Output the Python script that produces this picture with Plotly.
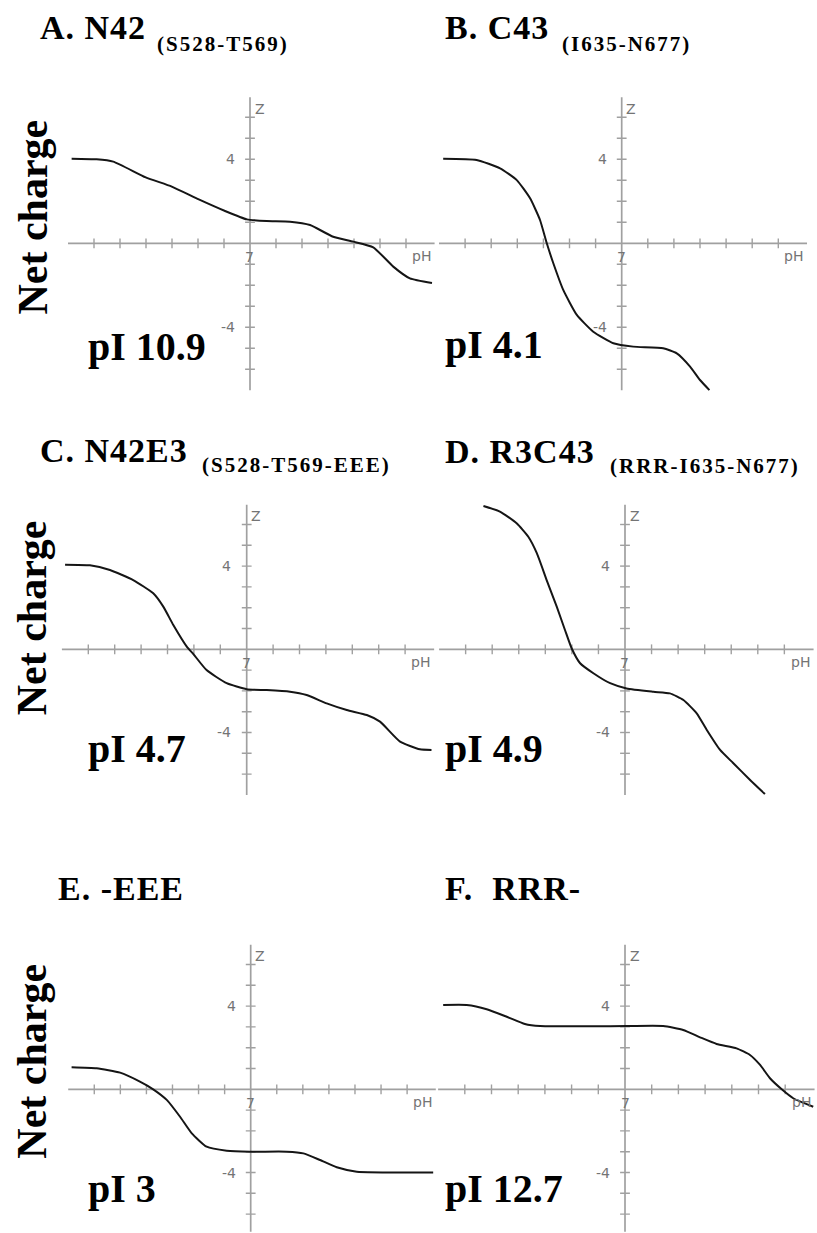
import plotly.graph_objects as go

W, H = 817, 1233

# ---------------- data: (pH, net charge Z) ----------------
ph_A = [0.14, 1.10, 1.74, 2.99, 3.99, 5.03, 6.02, 6.88, 7.64, 8.54, 9.31, 10.20, 10.97, 11.74, 12.51, 13.15, 14.0]
z_A = [4.03, 4.00, 3.89, 3.14, 2.70, 2.09, 1.55, 1.14, 1.06, 1.03, 0.87, 0.31, 0.08, -0.19, -1.11, -1.67, -1.89]

ph_B = [0.16, 1.44, 2.34, 2.98, 3.49, 3.87, 4.13, 4.38, 4.76, 5.28, 5.91, 6.68, 7.44, 8.59, 9.11, 9.62, 10.0, 10.36]
z_B = [4.03, 3.97, 3.57, 3.01, 2.14, 1.11, 0.0, -0.95, -2.22, -3.41, -4.21, -4.76, -4.92, -5.0, -5.24, -5.87, -6.51, -6.99]

ph_C = [0.12, 1.06, 1.82, 2.70, 3.46, 3.84, 4.22, 4.73, 4.98, 5.48, 6.24, 7.0, 7.76, 8.64, 9.27, 10.03, 10.79, 11.55, 12.05, 12.81, 13.56, 14.0]
z_C = [4.07, 4.04, 3.81, 3.33, 2.69, 2.05, 1.17, 0.13, -0.23, -1.0, -1.63, -1.92, -1.96, -2.04, -2.2, -2.6, -2.92, -3.16, -3.48, -4.44, -4.81, -4.84]

ph_D = [1.67, 2.29, 2.92, 3.36, 3.68, 4.05, 4.43, 4.74, 4.99, 5.31, 5.81, 6.44, 7.06, 8.07, 8.69, 9.2, 9.7, 10.08, 10.58, 11.08, 11.71, 12.27]
z_D = [6.89, 6.62, 6.06, 5.41, 4.62, 3.33, 2.05, 0.93, 0.05, -0.67, -1.15, -1.63, -1.88, -2.04, -2.12, -2.44, -3.08, -3.88, -4.84, -5.48, -6.28, -6.96]

ph_E = [0.13, 1.09, 1.99, 2.75, 3.26, 3.78, 4.29, 4.74, 5.31, 6.08, 6.97, 8.38, 9.02, 9.66, 10.3, 11.07, 13.5, 14.0]
z_E = [1.06, 1.01, 0.80, 0.37, 0.0, -0.51, -1.32, -2.12, -2.76, -2.95, -3.0, -3.0, -3.08, -3.4, -3.75, -3.96, -4.0, -4.0]

ph_F = [0.19, 1.07, 1.82, 2.57, 3.25, 3.82, 7.06, 8.43, 9.18, 9.81, 10.43, 11.18, 11.68, 12.06, 12.43, 12.87, 13.3, 14.05]
z_F = [4.05, 4.05, 3.85, 3.49, 3.14, 3.04, 3.04, 3.04, 2.85, 2.5, 2.18, 1.97, 1.65, 1.17, 0.53, 0.0, -0.43, -0.84]

titles = ["A. N42", "B. C43", "C. N42E3", "D. R3C43", "E. -EEE", "F.  RRR-"]
subtitles = ["(S528-T569)", "(I635-N677)", "(S528-T569-EEE)", "(RRR-I635-N677)", "", ""]
pi_labels = ["pI 10.9", "pI 4.1", "pI 4.7", "pI 4.9", "pI 3", "pI 12.7"]

x_ticks = [1, 2, 3, 4, 5, 6, 8, 9, 10, 11, 12, 13]
z_ticks = [-6, -5, -4, -3, -2, -1, 1, 2, 3, 4, 5, 6]
z_labels = [4, -4]

series = [(ph_A, z_A), (ph_B, z_B), (ph_C, z_C), (ph_D, z_D), (ph_E, z_E), (ph_F, z_F)]

# ---------------- layout geometry (pixels) ----------------
# cx: pixel of pH 7, ux: px per pH unit, cy: pixel of Z=0, uy: px per charge unit
geom = [
    dict(cx=250.0, ux=26.0, cy=243.3, uy=21.0, yr=(-7.2, 7.2)),
    dict(cx=621.7, ux=26.1, cy=243.3, uy=21.0, yr=(-7.2, 7.2)),
    dict(cx=246.7, ux=26.4, cy=649.3, uy=20.8, yr=(-7.2, 7.2)),
    dict(cx=625.0, ux=26.56, cy=649.3, uy=20.8, yr=(-7.2, 7.2)),
    dict(cx=250.7, ux=26.07, cy=1089.3, uy=20.8, yr=(-6.85, 7.2)),
    dict(cx=625.0, ux=26.7, cy=1089.3, uy=20.8, yr=(-6.85, 7.2)),
]
XR = (-0.2, 14.15)

title_pos = [  # (main left x, main baseline, sub left x, sub baseline)
    (40, 39, 157, 51), (445, 39, 562, 51),
    (40, 462, 202, 472), (445, 463, 610, 473),
    (58, 900, None, None), (445, 900, None, None),
]
pi_pos = [(88, 360), (445, 358), (88, 762), (445, 762), (88, 1202), (445, 1202)]
netcharge_y = [217.5, 618.3, 1061.7]

AX = "#a0a0a0"
TXT = "#747474"
SERIF = "Liberation Serif, Times New Roman, serif"
SANS = "DejaVu Sans, sans-serif"

fig = go.Figure()
layout = dict(width=W, height=H, margin=dict(l=0, r=0, t=0, b=0),
              paper_bgcolor="white", plot_bgcolor="rgba(0,0,0,0)", showlegend=False)
annotations = []
shapes = []


def px_ann(text, x, baseline, size, xanchor="left", textangle=0, yc=None, **kw):
    if yc is None:
        yc = baseline - 0.3375 * size
    return dict(text=text, xref="paper", yref="paper", x=x / W, y=1 - yc / H,
                xanchor=xanchor, yanchor="middle", showarrow=False, textangle=textangle,
                borderpad=0, borderwidth=0,
                font=dict(family=SERIF, size=size, color="black", weight="bold"), **kw)


for i, (g, (ph, z)) in enumerate(zip(geom, series)):
    n = "" if i == 0 else str(i + 1)
    xa, ya = "x" + n, "y" + n
    x0 = g["cx"] + (XR[0] - 7) * g["ux"]
    x1 = g["cx"] + (XR[1] - 7) * g["ux"]
    yt = g["cy"] - g["yr"][1] * g["uy"]
    yb = g["cy"] - g["yr"][0] * g["uy"]
    layout["xaxis" + n] = dict(domain=[max(0, x0 / W), min(1, x1 / W)], range=list(XR),
                               visible=False, anchor=ya)
    layout["yaxis" + n] = dict(domain=[max(0, 1 - yb / H), min(1, 1 - yt / H)], range=list(g["yr"]),
                               visible=False, anchor=xa)

    # axes crossing at pH 7, Z 0
    shapes.append(dict(type="line", xref=xa, yref=ya, x0=0, x1=14.1, y0=0, y1=0,
                       line=dict(color=AX, width=1.7), layer="below"))
    shapes.append(dict(type="line", xref=xa, yref=ya, x0=7, x1=7, y0=-7, y1=6.95,
                       line=dict(color=AX, width=1.7), layer="below"))
    # cross ticks
    fig.add_trace(go.Scatter(x=x_ticks, y=[0] * len(x_ticks), mode="markers", xaxis=xa, yaxis=ya,
                             marker=dict(symbol="line-ns", size=7, line=dict(width=1.4, color=AX)),
                             hoverinfo="skip"))
    fig.add_trace(go.Scatter(x=[7] * len(z_ticks), y=z_ticks, mode="markers", xaxis=xa, yaxis=ya,
                             marker=dict(symbol="line-ew", size=7, line=dict(width=1.4, color=AX)),
                             hoverinfo="skip"))
    # curve
    fig.add_trace(go.Scatter(x=ph, y=z, mode="lines", xaxis=xa, yaxis=ya,
                             line=dict(color="#151515", width=2, shape="spline", smoothing=0.5),
                             hoverinfo="skip"))

    # axis labels
    lab = dict(xref=xa, yref=ya, showarrow=False, borderpad=0, borderwidth=0,
               font=dict(family=SANS, size=14, color=TXT))
    annotations.append(dict(text="Z", x=7.18, y=6.4, xanchor="left", yanchor="middle", **lab))
    for v in z_labels:
        annotations.append(dict(text=str(v), x=6.42, y=v, xanchor="right", yanchor="middle", **lab))
    annotations.append(dict(text="7", x=7, y=-0.65, xanchor="center", yanchor="middle", **lab))
    annotations.append(dict(text="pH", x=13.6, y=-0.62, xanchor="center", yanchor="middle", **lab))

    # titles
    mx, mb, sx, sb = title_pos[i]
    annotations.append(px_ann('<span style="letter-spacing:1px">%s</span>' % titles[i], mx, mb, 34))
    if subtitles[i]:
        annotations.append(px_ann('<span style="letter-spacing:2px">%s</span>' % subtitles[i], sx, sb, 21))
    # pI
    px, pb = pi_pos[i]
    annotations.append(px_ann(pi_labels[i], px, pb, 40))

for yc in netcharge_y:
    annotations.append(px_ann("Net charge", 32, 0, 42, xanchor="center", textangle=-90, yc=yc))

layout["annotations"] = annotations
layout["shapes"] = shapes
fig.update_layout(**layout)
fig.write_html("out.html")
